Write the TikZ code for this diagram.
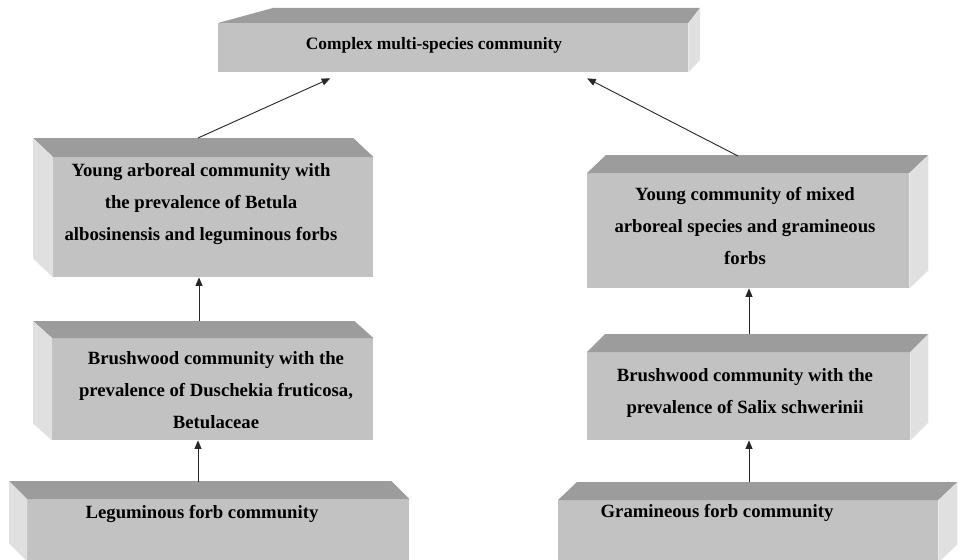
\documentclass[tikz,border=0pt]{standalone}
\usepackage{fontspec}
\setmainfont{Liberation Serif}
\usetikzlibrary{arrows.meta,calc}
\definecolor{frontc}{HTML}{C2C2C2}
\definecolor{topc}{HTML}{9C9C9C}
\definecolor{sidec}{HTML}{E0E0E0}
\tikzset{
  face/.style={fill=frontc, draw=none, inner sep=0pt, anchor=north west},
  lbl/.style={font=\bfseries\fontsize{18.7}{32}\selectfont, align=center, inner sep=0pt, text=black},
  toplbl/.style={lbl, font=\bfseries\fontsize{17.4}{32}\selectfont},
  arr/.style={draw=black!85, line width=0.9pt, -{Triangle[length=8.5pt,width=7pt]}},
}
\newcommand{\topface}[3]{\fill[topc] (#1.north west) -- ++(#2,#3) -- ($(#1.north east)+(#2,#3)$) -- (#1.north east) -- cycle;}
\newcommand{\leftface}[3]{\fill[sidec] (#1.north west) -- ++(#2,#3) -- ($(#1.south west)+(#2,#3)$) -- (#1.south west) -- cycle;}
\newcommand{\rightface}[3]{\fill[sidec] (#1.north east) -- ++(#2,#3) -- ($(#1.south east)+(#2,#3)$) -- (#1.south east) -- cycle;}
\begin{document}
\begin{tikzpicture}[x=1pt,y=-1pt]
\clip (0,0) rectangle (960,559);
\fill[white] (0,0) rectangle (960,559);

% top box (perspective)
\node[face, minimum width=470pt, minimum height=49pt] (top) at (218,23) {};
\fill[topc] (top.north west) -- (273,8) -- (700,8) -- (top.north east) -- cycle;
\fill[sidec] (top.north east) -- (700,8) -- (700,60) -- (top.south east) -- cycle;
\node[toplbl] (toptxt) at (434,45) {Complex multi-species community};

% left column
\node[face, minimum width=320pt, minimum height=120pt] (lyoung) at (53,157) {};
\topface{lyoung}{-20}{-19}
\leftface{lyoung}{-20}{-19}
\node[lbl] (lyoungtxt) at (201,204) {Young arboreal community with\\the prevalence of Betula\\albosinensis and leguminous forbs};

\node[face, minimum width=321pt, minimum height=102pt] (lbrush) at (52,338) {};
\topface{lbrush}{-19}{-17}
\leftface{lbrush}{-19}{-17}
\node[lbl] (lbrushtxt) at (216,390) {Brushwood community with the\\prevalence of Duschekia fruticosa,\\Betulaceae};

\node[face, minimum width=382pt, minimum height=62pt] (lleg) at (27,499) {};
\topface{lleg}{-18}{-18}
\leftface{lleg}{-18}{-18}
\node[lbl] (llegtxt) at (202,514) {Leguminous forb community};

% right column
\node[face, minimum width=322pt, minimum height=115pt] (ryoung) at (587,173) {};
\topface{ryoung}{19}{-18}
\rightface{ryoung}{19}{-18}
\node[lbl] (ryoungtxt) at (745,226) {Young community of mixed\\arboreal species and gramineous\\forbs};

\node[face, minimum width=323pt, minimum height=88pt] (rbrush) at (587,352) {};
\topface{rbrush}{18}{-18}
\rightface{rbrush}{18}{-18}
\node[lbl] (rbrushtxt) at (745,393) {Brushwood community with the\\prevalence of Salix schwerinii};

\node[face, minimum width=380pt, minimum height=62pt] (rgram) at (558,500) {};
\topface{rgram}{19}{-18}
\rightface{rgram}{19}{-18}
\node[lbl] (rgramtxt) at (717,513) {Gramineous forb community};

% connectors
\coordinate (llegtop) at (198,482);
\coordinate (lbrushtop) at (199,321);
\coordinate (lyoungtop) at (198,138);
\coordinate (rgramtop) at (749,482);
\coordinate (rbrushtop) at (749,334);
\coordinate (ryoungtop) at (738,156);
\draw[arr] (llegtop) -- (llegtop |- lbrush.south);
\draw[arr] (lbrushtop) -- (lbrushtop |- lyoung.south);
\draw[arr] (rgramtop) -- (rgramtop |- rbrush.south);
\draw[arr] (rbrushtop) -- (rbrushtop |- ryoung.south);
\draw[arr] (lyoungtop) -- ([xshift=-123pt,yshift=-6pt]top.south);
\draw[arr] (ryoungtop) -- ([xshift=134pt,yshift=-6pt]top.south);
\end{tikzpicture}
\end{document}
